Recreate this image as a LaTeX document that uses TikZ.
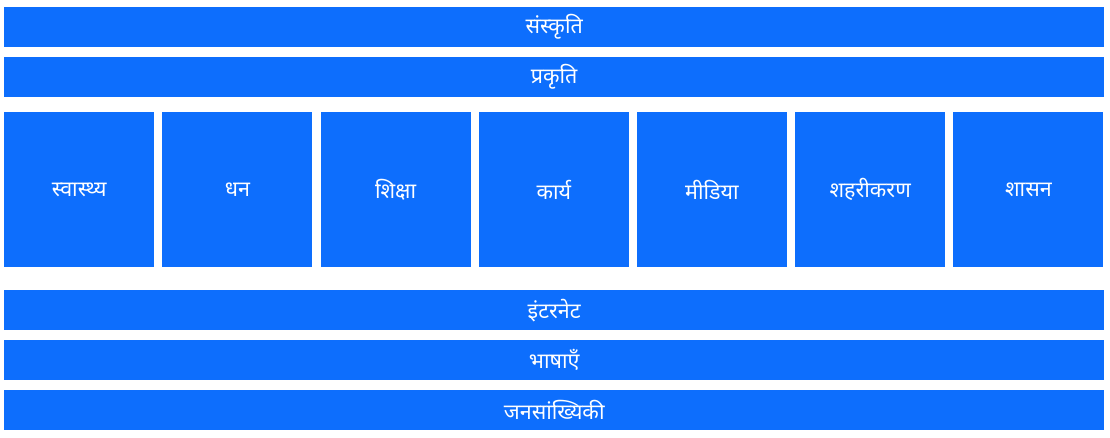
\documentclass[tikz,border=0pt]{standalone}
\usepackage{fontspec}
\newfontfamily\hindi[Script=Devanagari]{Noto Sans}
\usetikzlibrary{positioning}
\definecolor{barblue}{HTML}{0D6EFD}
\tikzset{
  band/.style={fill=barblue, text=white, font=\hindi\fontsize{21.5}{24}\selectfont,
    minimum width=1100pt, minimum height=40pt, inner sep=0pt, anchor=north west},
  tile/.style={band, minimum width=150pt, minimum height=155pt}
}
\begin{document}
\begin{tikzpicture}[x=1pt,y=-1pt]
  \useasboundingbox (0,0) rectangle (1110,437);
  % top bands
  \node[band] (sanskriti) at (4,7) {संस्कृति};
  \node[band] (prakriti) at (4,57) {प्रकृति};
  % middle row of tiles
  \foreach \lbl [count=\i from 0] in {स्वास्थ्य,धन,शिक्षा,कार्य,मीडिया,शहरीकरण,शासन}
    \node[tile] (tile\i) at ({4+158.2*\i},112) {\lbl};
  % bottom bands
  \node[band] (internet) at (4,290) {इंटरनेट};
  \node[band] (bhashayen) at (4,340) {भाषाएँ};
  \node[band] (janasankhyiki) at (4,390) {जनसांख्यिकी};
\end{tikzpicture}
\end{document}
